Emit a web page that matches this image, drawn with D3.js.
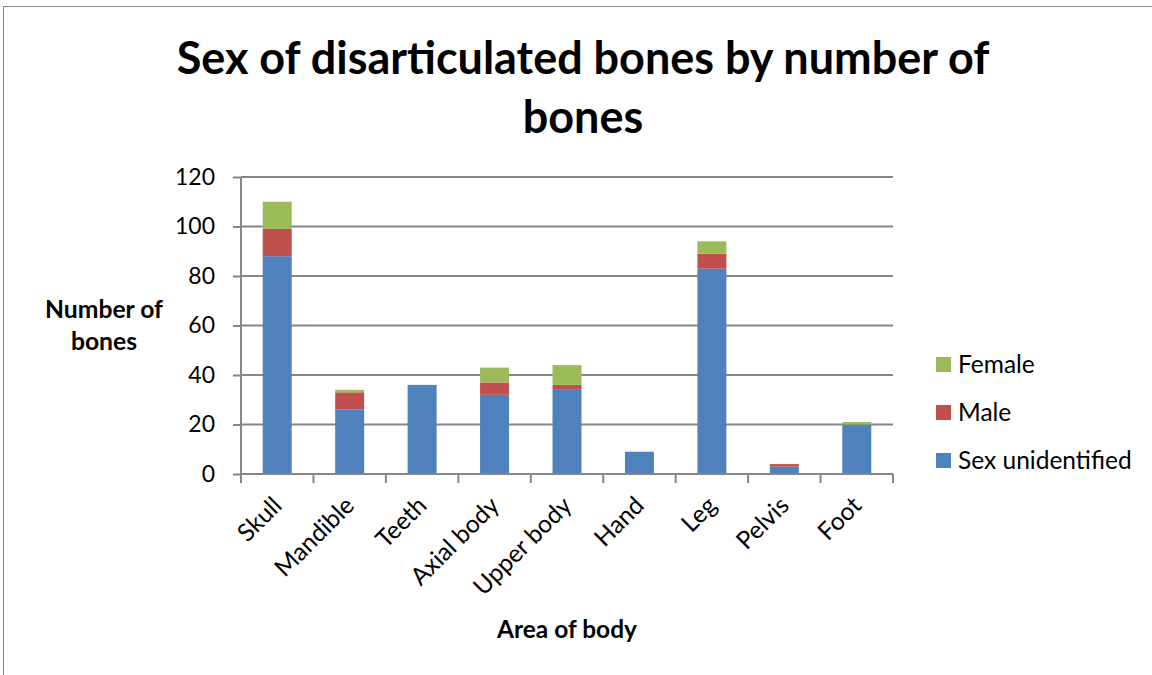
<!DOCTYPE html>
<html><head><meta charset="utf-8">
<script src="https://cdn.jsdelivr.net/npm/d3@7"></script>
<style>body{margin:0;background:#fff}svg{display:block}text{font-family:Lato,"Liberation Sans",sans-serif;fill:#000}</style>
</head><body><svg id="c" width="1152" height="675"></svg>
<script>
const categories=["Skull","Mandible","Teeth","Axial body","Upper body","Hand","Leg","Pelvis","Foot"];
const unidentified=[88,26,36,32,34,9,83,3,20];
const male=[11,7,0,5,2,0,6,1,0];
const female=[11,1,0,6,8,0,5,0,1];
const seriesNames=["Sex unidentified","Male","Female"];
const colors=["#4F81BD","#C0504D","#9BBB59"];
const yTicks=[0,20,40,60,80,100,120];

const svg=d3.select("#c");
svg.append("rect").attr("x",3.5).attr("y",6.5).attr("width",1160).attr("height",700).attr("fill","none").attr("stroke","#868686").attr("stroke-width",1);

const x0=241,x1=893,yTop=177,yBot=474;
const x=d3.scaleBand().domain(categories).range([x0,x1]).paddingInner(0.6).paddingOuter(0.3);
const xb=d3.scaleBand().domain(categories).range([x0,x1]);
const y=d3.scaleLinear().domain([0,120]).range([yBot,yTop]);

function fit(sel,target){const w=sel.node().getComputedTextLength();const f=parseFloat(sel.style("font-size"));sel.style("font-size",(f*target/w)+"px");return f*target/w;}

// gridlines
svg.append("g").selectAll("line").data(yTicks.slice(1)).join("line")
 .attr("x1",x0).attr("x2",x1).attr("y1",d=>y(d)).attr("y2",d=>y(d))
 .attr("stroke","#868686").attr("stroke-width",2);

const table=categories.map((c,i)=>({cat:c,"Sex unidentified":unidentified[i],"Male":male[i],"Female":female[i]}));
const stack=d3.stack().keys(seriesNames)(table);
svg.append("g").selectAll("g").data(stack).join("g").attr("fill",(d,i)=>colors[i])
 .selectAll("rect").data(d=>d.filter(p=>p[1]-p[0]>0)).join("rect")
 .attr("x",d=>x(d.data.cat)).attr("width",x.bandwidth())
 .attr("y",d=>y(d[1])).attr("height",d=>y(d[0])-y(d[1]));

// y axis
const ya=svg.append("g").attr("transform",`translate(${x0},0)`)
 .call(d3.axisLeft(y).tickValues(yTicks).tickSize(8).tickPadding(18));
ya.select(".domain").attr("stroke","#868686").attr("stroke-width",2).attr("d",`M0,${yTop}V${yBot+8}`);
ya.selectAll(".tick line").attr("stroke","#868686").attr("stroke-width",2);
ya.selectAll(".tick text").style("font-family","Lato,sans-serif").style("font-size","23px").attr("fill","#000");

// x axis
const xa=svg.append("g").attr("transform",`translate(0,${yBot})`);
xa.append("line").attr("x1",x0).attr("x2",x1).attr("y1",0).attr("y2",0).attr("stroke","#868686").attr("stroke-width",2);
xa.selectAll("line.t").data(d3.range(categories.length+1)).join("line").attr("class","t")
 .attr("x1",i=>x0+i*xb.step()).attr("x2",i=>x0+i*xb.step()).attr("y1",0).attr("y2",9)
 .attr("stroke","#868686").attr("stroke-width",2);
xa.selectAll("text").data(categories).join("text")
 .attr("transform",d=>`translate(${xb(d)+xb.bandwidth()/2},${27}) rotate(-45)`)
 .attr("text-anchor","end").attr("dy","0.35em").style("font-size","24.5px").text(d=>d);

// titles
const t1=svg.append("text").attr("x",583).attr("y",74).attr("text-anchor","middle").style("font-weight","bold").style("font-size","40px").text("Sex of disarticulated bones by number of");
const fs=fit(t1,813);
svg.append("text").attr("x",583).attr("y",133).attr("text-anchor","middle").style("font-weight","bold").style("font-size",fs+"px").text("bones");

const n1=svg.append("text").attr("x",104).attr("y",318).attr("text-anchor","middle").style("font-weight","bold").style("font-size","20px").text("Number of");
const fs2=fit(n1,118);
svg.append("text").attr("x",104).attr("y",350).attr("text-anchor","middle").style("font-weight","bold").style("font-size",fs2+"px").text("bones");
const a1=svg.append("text").attr("x",567).attr("y",638).attr("text-anchor","middle").style("font-weight","bold").style("font-size","21px").text("Area of body");
fit(a1,140);

// legend
const leg=svg.append("g");
const legItems=[{n:"Female",c:colors[2],y:364},{n:"Male",c:colors[1],y:412},{n:"Sex unidentified",c:colors[0],y:460}];
legItems.forEach(d=>{
 leg.append("rect").attr("x",936).attr("y",d.y-7).attr("width",15).attr("height",15).attr("fill",d.c);
 leg.append("text").attr("x",958).attr("y",d.y).attr("dy","0.35em").style("font-size","24.5px").text(d.n);
});
</script></body></html>
